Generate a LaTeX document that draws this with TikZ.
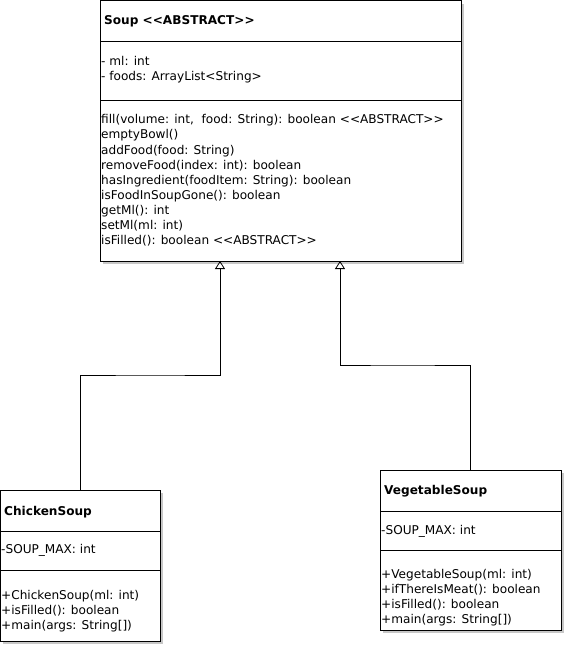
\documentclass[tikz,border=0pt]{standalone}
\usepackage{fontspec}
\setmainfont{DejaVu Sans}[Ligatures=TeXOff]
\usetikzlibrary{arrows.meta}
\begin{document}
\begin{tikzpicture}[x=1pt,y=-1pt,
  classbox/.style={draw=black,line width=1pt,fill=white},
  shadowbox/.style={fill=black!22,draw=none},
  sep/.style={line width=0.8pt},
  txt/.style={anchor=base west,inner sep=0pt,font=\fontsize{12.1}{14}\selectfont},
  ttl/.style={anchor=base west,inner sep=0pt,font=\fontsize{12.1}{14}\selectfont\bfseries},
  inherit/.style={draw=black,line width=0.8pt,-{Triangle[open,length=8pt,width=10pt]}}]
\useasboundingbox (0,0) rectangle (565,655);

% Soup (abstract)
\fill[shadowbox] (103,4) rectangle (464,264);
\draw[classbox] (100,1) rectangle (461,261);
\draw[sep] (100,41) -- (461,41);
\draw[sep] (100,100) -- (461,100);
\node[ttl] (soupT) at (104,25) {Soup <<ABSTRACT>>};
\node[txt] (soupA1) at (101,66) {- ml: int};
\node[txt] (soupA2) at (101,81) {- foods: ArrayList<String>};
\node[txt] (soupM1) at (101,124) {fill(volume: int,\ \ food: String): boolean <<ABSTRACT>>};
\node[txt] (soupM2) at (101,139) {emptyBowl()};
\node[txt] (soupM3) at (101,154) {addFood(food: String)};
\node[txt] (soupM4) at (101,169) {removeFood(index: int): boolean};
\node[txt] (soupM5) at (101,184) {hasIngredient(foodItem: String): boolean};
\node[txt] (soupM6) at (101,199) {isFoodInSoupGone(): boolean};
\node[txt] (soupM7) at (101,214) {getMl(): int};
\node[txt] (soupM8) at (101,229) {setMl(ml: int)};
\node[txt] (soupM9) at (101,244) {isFilled(): boolean <<ABSTRACT>>};
\coordinate (soupInL) at (220,261);
\coordinate (soupInR) at (340,261);

% ChickenSoup
\fill[shadowbox] (3,493) rectangle (163,644);
\draw[classbox] (0,490) rectangle (160,641);
\draw[sep] (0,531) -- (160,531);
\draw[sep] (0,570) -- (160,570);
\node[ttl] (chT) at (4,515) {ChickenSoup};
\node[txt] (chA1) at (1,553) {-SOUP\_MAX: int};
\node[txt] (chM1) at (1,599) {+ChickenSoup(ml: int)};
\node[txt] (chM2) at (1,614) {+isFilled(): boolean};
\node[txt] (chM3) at (1,629) {+main(args: String[])};
\coordinate (chTop) at (80,490);

% VegetableSoup
\fill[shadowbox] (383,473) rectangle (564,633);
\draw[classbox] (380,470) rectangle (561,630);
\draw[sep] (380,511) -- (561,511);
\draw[sep] (380,550) -- (561,550);
\node[ttl] (vgT) at (384,494) {VegetableSoup};
\node[txt] (vgA1) at (381,534) {-SOUP\_MAX: int};
\node[txt] (vgM1) at (381,578) {+VegetableSoup(ml: int)};
\node[txt] (vgM2) at (381,593) {+ifThereIsMeat(): boolean};
\node[txt] (vgM3) at (381,608) {+isFilled(): boolean};
\node[txt] (vgM4) at (381,623) {+main(args: String[])};
\coordinate (vgTop) at (470,470);

% generalization connectors
\draw[inherit] (chTop) |- (150,375) -| (soupInL);
\draw[inherit] (vgTop) |- (400,365) -| (soupInR);
\end{tikzpicture}
\end{document}
